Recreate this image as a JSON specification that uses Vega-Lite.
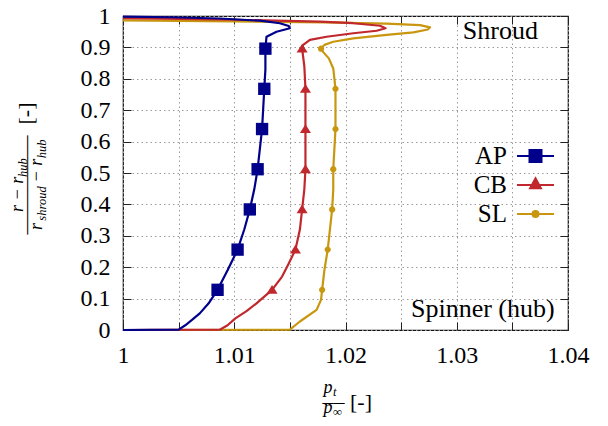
{
  "$schema": "https://vega.github.io/schema/vega-lite/v6.json",
  "width": 445,
  "height": 314,
  "autosize": {"type": "none"},
  "padding": {"left": 123, "top": 16, "right": 40, "bottom": 96},
  "background": "white",
  "config": {
    "view": {"stroke": "#111", "strokeWidth": 1.2},
    "axis": {"domain": false, "tickColor": "#222", "tickWidth": 1, "labelFont": "'Liberation Serif', 'DejaVu Serif', serif", "titleFont": "Liberation Serif, DejaVu Serif, serif"},
    "legend": {"labelFont": "Liberation Serif, DejaVu Serif, serif"}
  },
  "datasets": {
    "profiles": [
      {"series": "SL", "x": 1.0, "y": 0.0},
      {"series": "SL", "x": 1.015, "y": 0.001},
      {"series": "SL", "x": 1.0159, "y": 0.027},
      {"series": "SL", "x": 1.0174, "y": 0.064},
      {"series": "SL", "x": 1.0178, "y": 0.096},
      {"series": "SL", "x": 1.0179, "y": 0.128},
      {"series": "SL", "x": 1.0181, "y": 0.19},
      {"series": "SL", "x": 1.0184, "y": 0.256},
      {"series": "SL", "x": 1.0186, "y": 0.32},
      {"series": "SL", "x": 1.0188, "y": 0.384},
      {"series": "SL", "x": 1.0189, "y": 0.448},
      {"series": "SL", "x": 1.0189, "y": 0.512},
      {"series": "SL", "x": 1.019, "y": 0.576},
      {"series": "SL", "x": 1.0191, "y": 0.64},
      {"series": "SL", "x": 1.0191, "y": 0.704},
      {"series": "SL", "x": 1.0191, "y": 0.768},
      {"series": "SL", "x": 1.0189, "y": 0.833},
      {"series": "SL", "x": 1.0185, "y": 0.865},
      {"series": "SL", "x": 1.018, "y": 0.885},
      {"series": "SL", "x": 1.0178, "y": 0.896},
      {"series": "SL", "x": 1.0181, "y": 0.908},
      {"series": "SL", "x": 1.0189, "y": 0.918},
      {"series": "SL", "x": 1.0207, "y": 0.929},
      {"series": "SL", "x": 1.0237, "y": 0.94},
      {"series": "SL", "x": 1.0261, "y": 0.948},
      {"series": "SL", "x": 1.0274, "y": 0.957},
      {"series": "SL", "x": 1.0276, "y": 0.964},
      {"series": "SL", "x": 1.0267, "y": 0.971},
      {"series": "SL", "x": 1.0237, "y": 0.976},
      {"series": "SL", "x": 1.018, "y": 0.98},
      {"series": "SL", "x": 1.01, "y": 0.983},
      {"series": "SL", "x": 1.0, "y": 0.986},
      {"series": "CB", "x": 1.0, "y": 0.0},
      {"series": "CB", "x": 1.0087, "y": 0.001},
      {"series": "CB", "x": 1.0094, "y": 0.015},
      {"series": "CB", "x": 1.0101, "y": 0.037},
      {"series": "CB", "x": 1.0111, "y": 0.06},
      {"series": "CB", "x": 1.012, "y": 0.085},
      {"series": "CB", "x": 1.0134, "y": 0.128},
      {"series": "CB", "x": 1.0143, "y": 0.17},
      {"series": "CB", "x": 1.0149, "y": 0.212},
      {"series": "CB", "x": 1.0155, "y": 0.256},
      {"series": "CB", "x": 1.0159, "y": 0.32},
      {"series": "CB", "x": 1.0161, "y": 0.384},
      {"series": "CB", "x": 1.0163, "y": 0.448},
      {"series": "CB", "x": 1.0164, "y": 0.512},
      {"series": "CB", "x": 1.0164, "y": 0.576},
      {"series": "CB", "x": 1.0164, "y": 0.64},
      {"series": "CB", "x": 1.0164, "y": 0.704},
      {"series": "CB", "x": 1.0164, "y": 0.768},
      {"series": "CB", "x": 1.0163, "y": 0.84},
      {"series": "CB", "x": 1.0161, "y": 0.896},
      {"series": "CB", "x": 1.0162, "y": 0.908},
      {"series": "CB", "x": 1.0168, "y": 0.924},
      {"series": "CB", "x": 1.0183, "y": 0.934},
      {"series": "CB", "x": 1.0207, "y": 0.945},
      {"series": "CB", "x": 1.0228, "y": 0.953},
      {"series": "CB", "x": 1.0236, "y": 0.961},
      {"series": "CB", "x": 1.0231, "y": 0.969},
      {"series": "CB", "x": 1.0207, "y": 0.977},
      {"series": "CB", "x": 1.0177, "y": 0.982},
      {"series": "CB", "x": 1.01, "y": 0.988},
      {"series": "CB", "x": 1.0, "y": 0.993},
      {"series": "AP", "x": 1.0, "y": 0.0},
      {"series": "AP", "x": 1.005, "y": 0.001},
      {"series": "AP", "x": 1.0056, "y": 0.015},
      {"series": "AP", "x": 1.0062, "y": 0.032},
      {"series": "AP", "x": 1.0069, "y": 0.053},
      {"series": "AP", "x": 1.0077, "y": 0.085},
      {"series": "AP", "x": 1.0085, "y": 0.128},
      {"series": "AP", "x": 1.0094, "y": 0.19},
      {"series": "AP", "x": 1.0103, "y": 0.256},
      {"series": "AP", "x": 1.0109, "y": 0.32},
      {"series": "AP", "x": 1.0114, "y": 0.384},
      {"series": "AP", "x": 1.0118, "y": 0.448},
      {"series": "AP", "x": 1.0121, "y": 0.512},
      {"series": "AP", "x": 1.0123, "y": 0.576},
      {"series": "AP", "x": 1.0125, "y": 0.64},
      {"series": "AP", "x": 1.0126, "y": 0.704},
      {"series": "AP", "x": 1.0127, "y": 0.768},
      {"series": "AP", "x": 1.0128, "y": 0.83},
      {"series": "AP", "x": 1.0128, "y": 0.896},
      {"series": "AP", "x": 1.0129, "y": 0.934},
      {"series": "AP", "x": 1.0138, "y": 0.95},
      {"series": "AP", "x": 1.015, "y": 0.961},
      {"series": "AP", "x": 1.0149, "y": 0.968},
      {"series": "AP", "x": 1.0141, "y": 0.977},
      {"series": "AP", "x": 1.0123, "y": 0.985},
      {"series": "AP", "x": 1.0087, "y": 0.992},
      {"series": "AP", "x": 1.0042, "y": 0.996},
      {"series": "AP", "x": 1.0, "y": 0.998}
    ],
    "markers": [
      {"series": "SL", "x": 1.0179, "y": 0.128},
      {"series": "SL", "x": 1.0184, "y": 0.256},
      {"series": "SL", "x": 1.0188, "y": 0.384},
      {"series": "SL", "x": 1.0189, "y": 0.512},
      {"series": "SL", "x": 1.0191, "y": 0.64},
      {"series": "SL", "x": 1.0191, "y": 0.768},
      {"series": "SL", "x": 1.0178, "y": 0.896},
      {"series": "CB", "x": 1.0134, "y": 0.128},
      {"series": "CB", "x": 1.0155, "y": 0.256},
      {"series": "CB", "x": 1.0161, "y": 0.384},
      {"series": "CB", "x": 1.0164, "y": 0.512},
      {"series": "CB", "x": 1.0164, "y": 0.64},
      {"series": "CB", "x": 1.0164, "y": 0.768},
      {"series": "CB", "x": 1.0161, "y": 0.896},
      {"series": "AP", "x": 1.0085, "y": 0.128},
      {"series": "AP", "x": 1.0103, "y": 0.256},
      {"series": "AP", "x": 1.0114, "y": 0.384},
      {"series": "AP", "x": 1.0121, "y": 0.512},
      {"series": "AP", "x": 1.0125, "y": 0.64},
      {"series": "AP", "x": 1.0127, "y": 0.768},
      {"series": "AP", "x": 1.0128, "y": 0.896}
    ],
    "notes": [
      {"label": "Shroud", "x": 1.0373, "y": 0.9258},
      {"label": "Spinner (hub)", "x": 1.0388, "y": 0.0424}
    ]
  },
  "layer": [
    {
      "data": {"name": "markers"},
      "transform": [{"filter": "false"}],
      "mark": {"type": "point", "filled": true, "strokeWidth": 2},
      "encoding": {
        "x": {"field": "x", "type": "quantitative", "axis": null},
        "y": {"field": "y", "type": "quantitative", "axis": null},
        "color": {
          "field": "series", "type": "nominal",
          "legend": {
            "orient": "none", "legendX": 399.5, "legendY": 127,
            "title": null, "padding": 0, "offset": 0,
            "labelFont": "Liberation Serif, DejaVu Serif, serif",
            "labelFontSize": 25, "labelColor": "#000",
            "labelAlign": "right", "labelBaseline": "middle", "labelOffset": -41.5,
            "symbolSize": 576, "symbolStrokeWidth": 2, "symbolOpacity": 1, "rowPadding": 3
          }
        },
        "stroke": {
          "field": "series", "type": "nominal",
          "scale": {"domain": ["AP", "CB", "SL"], "range": ["#00008b", "#c0282d", "#c8960f"]}
        },
        "shape": {
          "field": "series", "type": "nominal",
          "scale": {
            "domain": ["AP", "CB", "SL"],
            "range": [
              "M-1.54,0H1.54M-0.5,-0.5H0.5V0.5H-0.5Z",
              "M-1.54,0H1.54M0,-0.56L0.45,0.28H-0.45Z",
              "M-1.54,0H1.54M0.25,0A0.25,0.25,0,1,1,-0.25,0A0.25,0.25,0,1,1,0.25,0Z"
            ]
          }
        }
      }
    },
    {
      "data": {"name": "profiles"},
      "mark": {"type": "line", "strokeWidth": 2.2, "strokeJoin": "round"},
      "encoding": {
        "x": {
          "field": "x", "type": "quantitative",
          "scale": {"domain": [1, 1.04], "nice": false, "zero": false},
          "axis": {
            "orient": "bottom",
            "values": [1, 1.005, 1.01, 1.015, 1.02, 1.025, 1.03, 1.035, 1.04],
            "labelExpr": "abs(datum.value * 100 - round(datum.value * 100)) < 0.001 ? (datum.value == 1 ? '1' : format(datum.value, '.2f')) : ''",
            "labelFont": "'Liberation Serif', 'DejaVu Serif', serif", "labelColor": "#000",
            "labelFontStyle": "normal", "labelFontWeight": "normal",
            "labelFontSize": 24, "labelPadding": 21, "labelBaseline": "top",
            "labelFlush": false, "labelOverlap": false,
            "grid": true, "gridColor": "#9a9a9a", "gridDash": [1.5, 3], "gridWidth": 1,
            "ticks": true, "tickSize": -8,
            "title": ["p", "p"],
            "titleFont": "Liberation Serif, DejaVu Serif, serif", "titleColor": "#000",
            "titleFontSize": 18, "titleFontStyle": "italic", "titleFontWeight": "normal", "titleLineHeight": 20,
            "titleAlign": "left", "titleBaseline": "alphabetic",
            "titleX": 200, "titleY": 62
          }
        },
        "y": {
          "field": "y", "type": "quantitative",
          "scale": {"domain": [0, 1], "nice": false, "zero": false},
          "axis": {
            "orient": "left",
            "values": [0, 0.1, 0.2, 0.3, 0.4, 0.5, 0.6, 0.7, 0.8, 0.9, 1],
            "labelExpr": "datum.value == 0 ? '0' : datum.value == 1 ? '1' : format(datum.value, '.1f')",
            "labelFont": "'Liberation Serif', 'DejaVu Serif', serif", "labelColor": "#000",
            "labelFontStyle": "normal", "labelFontWeight": "normal",
            "labelFontSize": 24, "labelPadding": 21,
            "labelFlush": false, "labelOverlap": false,
            "grid": true, "gridColor": "#9a9a9a", "gridDash": [1.5, 3], "gridWidth": 1,
            "ticks": true, "tickSize": -8,
            "title": ["\u200b\u00a0\u00a0\u00a0\u00a0r − r", "r\u00a0\u00a0\u00a0\u00a0\u00a0\u00a0\u00a0\u00a0 − r"],
            "titleFont": "Liberation Serif, DejaVu Serif, serif", "titleColor": "#000",
            "titleFontSize": 18, "titleFontStyle": "italic", "titleFontWeight": "normal", "titleLineHeight": 19,
            "titleAngle": -90, "titleAlign": "left", "titleBaseline": "alphabetic",
            "titleX": -100.5, "titleY": 213.5
          }
        },
        "color": {
          "field": "series", "type": "nominal",
          "scale": {"domain": ["AP", "CB", "SL"], "range": ["#00008b", "#c0282d", "#c8960f"]}
        },
        "order": {"field": "y", "type": "quantitative"}
      }
    },
    {
      "data": {"name": "markers"},
      "transform": [{"filter": "datum.series === 'AP'"}],
      "mark": {"type": "point", "filled": true, "opacity": 1, "size": 169, "shape": "M-0.95,-0.95H0.95V0.95H-0.95Z"},
      "encoding": {
        "x": {
          "field": "x", "type": "quantitative",
          "axis": {
            "orient": "top",
            "values": [1, 1.005, 1.01, 1.015, 1.02, 1.025, 1.03, 1.035, 1.04],
            "labels": false, "grid": false, "ticks": true, "tickSize": -8,
            "title": ["t", "∞"],
            "titleFont": "Liberation Serif, DejaVu Serif, serif", "titleColor": "#000",
            "titleFontSize": 12.5, "titleFontStyle": "italic", "titleFontWeight": "normal", "titleLineHeight": 20,
            "titleAngle": 0, "titleAlign": "left", "titleBaseline": "alphabetic",
            "titleX": 209.5, "titleY": 379
          }
        },
        "y": {
          "field": "y", "type": "quantitative",
          "axis": {
            "orient": "right",
            "values": [0, 0.1, 0.2, 0.3, 0.4, 0.5, 0.6, 0.7, 0.8, 0.9, 1],
            "labels": false, "grid": false, "ticks": true, "tickSize": -8,
            "title": ["\u200b\u00a0\u00a0\u00a0\u00a0\u00a0\u00a0\u00a0\u00a0\u00a0\u00a0\u00a0\u00a0\u00a0\u00a0\u00a0\u00a0\u00a0hub", "\u200b\u00a0\u00a0\u00a0shroud\u00a0\u00a0\u00a0\u00a0\u00a0\u00a0\u00a0\u00a0\u00a0hub"],
            "titleFont": "Liberation Serif, DejaVu Serif, serif", "titleColor": "#000",
            "titleFontSize": 12.5, "titleFontStyle": "italic", "titleFontWeight": "normal", "titleLineHeight": 19,
            "titleAngle": -90, "titleAlign": "left", "titleBaseline": "alphabetic",
            "titleX": -542, "titleY": 213.5
          }
        },
        "color": {"field": "series", "type": "nominal"}
      }
    },
    {
      "data": {"name": "markers"},
      "transform": [{"filter": "datum.series === 'CB'"}],
      "mark": {"type": "point", "filled": true, "opacity": 1, "size": 169, "shape": "M0,-0.75L0.85,0.6H-0.85Z"},
      "encoding": {
        "x": {"field": "x", "type": "quantitative", "axis": null},
        "y": {"field": "y", "type": "quantitative", "axis": null},
        "color": {"field": "series", "type": "nominal"}
      }
    },
    {
      "data": {"name": "markers"},
      "transform": [{"filter": "datum.series === 'SL'"}],
      "mark": {"type": "point", "filled": true, "opacity": 1, "size": 169, "shape": "M0.48,0A0.48,0.48,0,1,1,-0.48,0A0.48,0.48,0,1,1,0.48,0Z"},
      "encoding": {
        "x": {"field": "x", "type": "quantitative", "axis": null},
        "y": {"field": "y", "type": "quantitative", "axis": null},
        "color": {"field": "series", "type": "nominal"}
      }
    },
    {
      "data": {"name": "notes"},
      "mark": {"type": "text", "font": "'Liberation Serif', 'DejaVu Serif', serif", "fontStyle": "normal", "fontWeight": "normal", "fontSize": 26, "align": "right", "baseline": "alphabetic", "color": "#000"},
      "encoding": {
        "x": {
          "field": "x", "type": "quantitative",
          "axis": {
            "orient": "bottom", "labels": false, "ticks": false, "grid": false,
            "title": "–– [-]",
            "titleFont": "Liberation Serif, DejaVu Serif, serif", "titleColor": "#000",
            "titleFontSize": 22, "titleFontStyle": "normal", "titleFontWeight": "normal",
            "titleAngle": 0, "titleAlign": "left", "titleBaseline": "alphabetic",
            "titleX": 199, "titleY": 78
          }
        },
        "y": {
          "field": "y", "type": "quantitative",
          "axis": {
            "orient": "left", "labels": false, "ticks": false, "grid": false,
            "title": "————– \u00a0[-]",
            "titleFont": "Liberation Serif, DejaVu Serif, serif", "titleColor": "#000",
            "titleFontSize": 22, "titleFontStyle": "normal", "titleFontWeight": "normal",
            "titleAngle": -90, "titleAlign": "left", "titleBaseline": "alphabetic",
            "titleX": -90.5, "titleY": 218
          }
        },
        "text": {"field": "label", "type": "nominal"}
      }
    }
  ],
  "resolve": {"axis": {"x": "independent", "y": "independent"}}
}
